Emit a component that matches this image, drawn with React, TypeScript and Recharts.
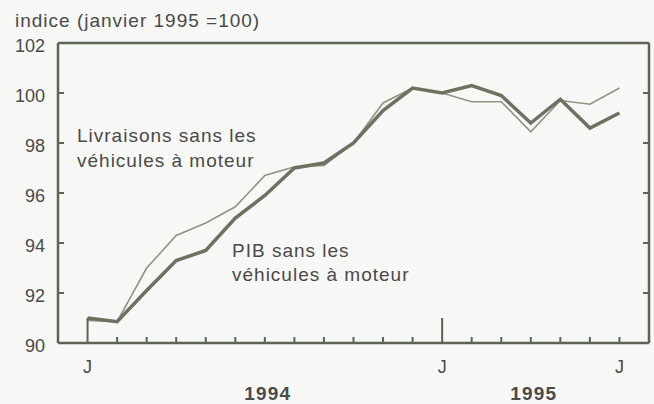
import { Line, LineChart, ReferenceLine, XAxis, YAxis } from "recharts";

// month index 0 = janvier 1994 ... 18 = juillet 1995
const months = [0, 1, 2, 3, 4, 5, 6, 7, 8, 9, 10, 11, 12, 13, 14, 15, 16, 17, 18];
const monthLabels = ["J", "", "", "", "", "", "", "", "", "", "", "", "J", "", "", "", "", "", "J"];
const majorMonths = [0, 12];
const yearLabels: Record<number, string> = { 6: "1994", 15: "1995" };

const pib = [91.0, 90.85, 92.1, 93.3, 93.7, 95.0, 95.9, 97.0, 97.2, 98.0, 99.3, 100.2, 100.0, 100.3, 99.9, 98.8, 99.75, 98.6, 99.2];
const livraisons = [90.9, 90.85, 93.0, 94.3, 94.8, 95.45, 96.7, 97.05, 97.1, 98.0, 99.6, 100.2, 100.0, 99.65, 99.65, 98.45, 99.7, 99.55, 100.2];

const yTicks = [90, 92, 94, 96, 98, 100, 102];

const data = months.map((m, i) => ({ m, pib: pib[i], livraisons: livraisons[i] }));

const AXIS = "#5c6453";
const TEXT = "#4a4a4a";
const FONT = "'Liberation Sans', Arial, sans-serif";

const MonthTick = (props: any) => {
  const { x, y, payload } = props;
  const v = payload.value as number;
  const len = majorMonths.includes(v) ? 25 : 6;
  const label = monthLabels[v];
  const year = yearLabels[v];
  return (
    <g>
      <line x1={x} x2={x} y1={y} y2={y - len} stroke={AXIS} strokeWidth={2} />
      {label && (
        <text x={x} y={y + 30} textAnchor="middle" fontSize={18} fill={TEXT} fontFamily={FONT}>
          {label}
        </text>
      )}
      {year && (
        <text x={x + 3} y={y + 57} textAnchor="middle" fontSize={19} fontWeight="bold" letterSpacing={1.2} fill={TEXT} fontFamily={FONT}>
          {year}
        </text>
      )}
    </g>
  );
};

const LeftTick = (props: any) => {
  const { x, y, payload } = props;
  return (
    <g>
      <line x1={x} x2={x + 6} y1={y} y2={y} stroke={AXIS} strokeWidth={2} />
      <text x={x - 13} y={y + 9} textAnchor="end" fontSize={18} fill={TEXT} fontFamily={FONT}>
        {payload.value}
      </text>
    </g>
  );
};

const RightTick = (props: any) => {
  const { x, y } = props;
  return <line x1={x} x2={x - 6} y1={y} y2={y} stroke={AXIS} strokeWidth={2} />;
};

export default function App() {
  return (
    <div style={{ position: "absolute", left: 0, top: 0, width: 654, height: 404, background: "#f7f7f5" }}>
      <LineChart width={654} height={404} data={data} margin={{ top: 43, right: 0, left: 0, bottom: 0 }}>
        <XAxis
          dataKey="m"
          type="number"
          domain={[-1, 19]}
          ticks={months}
          interval={0}
          height={61}
          tickLine={false}
          tickSize={0}
          tickMargin={0}
          axisLine={{ stroke: AXIS, strokeWidth: 2.5 }}
          tick={<MonthTick />}
        />
        <YAxis
          yAxisId="left"
          domain={[90, 102]}
          ticks={yTicks}
          width={58}
          tickLine={false}
          tickSize={0}
          tickMargin={0}
          axisLine={{ stroke: AXIS, strokeWidth: 2.5 }}
          tick={<LeftTick />}
        />
        <YAxis
          yAxisId="right"
          orientation="right"
          domain={[90, 102]}
          allowDataOverflow
          ticks={yTicks}
          width={5}
          tickLine={false}
          tickSize={0}
          tickMargin={0}
          axisLine={{ stroke: AXIS, strokeWidth: 2.5 }}
          tick={<RightTick />}
        />
        <ReferenceLine yAxisId="left" y={102} stroke={AXIS} strokeWidth={2.5} />
        <Line
          yAxisId="left"
          type="linear"
          dataKey="livraisons"
          stroke="#8e9584"
          strokeWidth={1.6}
          dot={false}
          isAnimationActive={false}
        />
        <Line
          yAxisId="left"
          type="linear"
          dataKey="pib"
          stroke="#6b725f"
          strokeWidth={3.5}
          dot={false}
          isAnimationActive={false}
        />
      </LineChart>
      <svg width={654} height={404} style={{ position: "absolute", left: 0, top: 0, pointerEvents: "none" }}>
        <g fontFamily={FONT} fontSize={19} fill={TEXT} letterSpacing={1.0}>
          <text x={15} y={27}>indice (janvier 1995 =100)</text>
          <text x={77} y={142}>Livraisons sans les</text>
          <text x={77} y={167}>véhicules à moteur</text>
          <text x={232} y={257}>PIB sans les</text>
          <text x={232} y={281}>véhicules à moteur</text>
        </g>
      </svg>
    </div>
  );
}
